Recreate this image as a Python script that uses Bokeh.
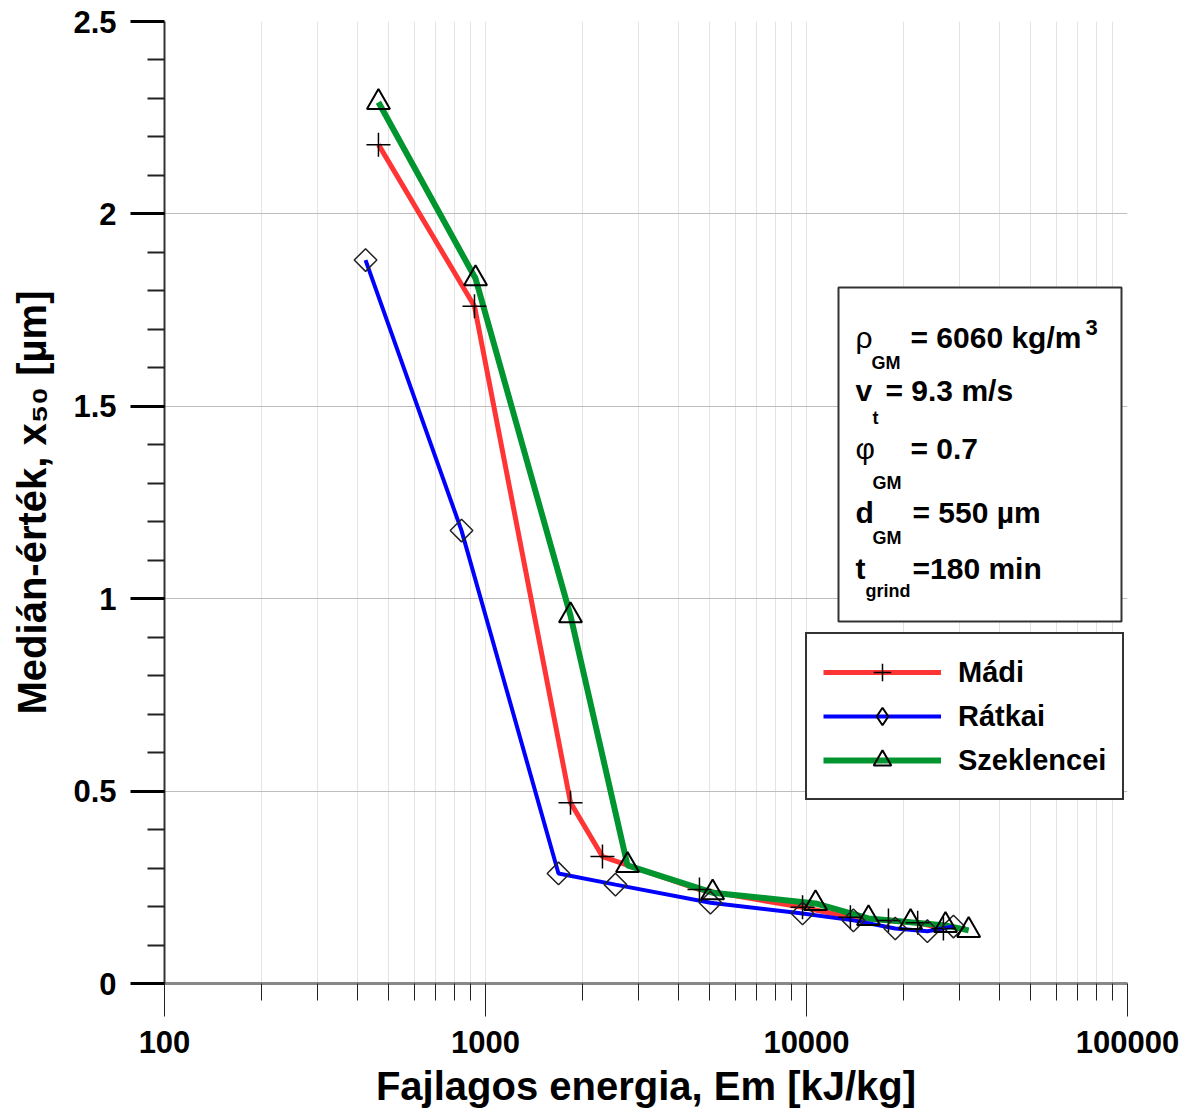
import numpy as np
from bokeh.plotting import figure
from bokeh.models import (Range1d, FixedTicker, CustomJSTickFormatter, Label,
                          BoxAnnotation, Legend, LegendItem)
from bokeh.embed import file_html
from bokeh.resources import INLINE

# ---------------- data ----------------
madi_x = [464, 924, 1840, 2314, 4640, 9720, 13700, 18000, 22200, 26700]
madi_y = [2.18, 1.76, 0.47, 0.33, 0.244, 0.198, 0.172, 0.164, 0.158, 0.143]

ratkai_x = [423, 842, 1688, 2540, 5020, 9720, 14000, 18900, 23800, 28700]
ratkai_y = [1.88, 1.177, 0.286, 0.257, 0.21, 0.182, 0.164, 0.143, 0.136, 0.148]

szek_x = [464, 931, 1840, 2770, 5100, 10670, 15600, 21100, 27100, 32000]
szek_y = [2.29, 1.832, 0.956, 0.307, 0.236, 0.208, 0.169, 0.159, 0.151, 0.138]

x_major = [100, 1000, 10000, 100000]
x_minor = [m * d for d in (100, 1000, 10000) for m in range(2, 10)]
y_major = [0, 0.5, 1, 1.5, 2, 2.5]
y_minor = [round(0.1 * i, 1) for i in range(26) if i % 5 != 0]

FONT = "Liberation Sans"

# ---------------- figure ----------------
W, H = 1184, 1114
FL, FR, FT, FB = 164, 1127, 21, 983   # frame edges in pixels
p = figure(width=W, height=H, x_axis_type="log",
           x_range=Range1d(100, 100000), y_range=Range1d(0, 2.5),
           output_backend="svg", toolbar_location=None,
           min_border_left=FL, min_border_right=W - FR,
           min_border_top=FT, min_border_bottom=H - FB)
p.outline_line_color = None
p.background_fill_color = "white"
p.border_fill_color = "white"

# helpers: pixel -> data, for placing the annotation texts
def dx(px):
    return 10 ** (2 + 3 * (px - FL) / (FR - FL))

def dy(py):
    return 2.5 * (FB - py) / (FB - FT)

# axes
p.xaxis.ticker = FixedTicker(ticks=x_major, minor_ticks=x_minor)
p.xgrid.ticker = FixedTicker(ticks=x_major, minor_ticks=x_minor)
p.xaxis.formatter = CustomJSTickFormatter(code="return Math.round(tick).toString()")
p.yaxis.ticker = FixedTicker(ticks=y_major, minor_ticks=y_minor)
p.ygrid.ticker = FixedTicker(ticks=y_major, minor_ticks=y_minor)
p.yaxis.formatter = CustomJSTickFormatter(code="return tick.toString()")

p.xaxis.axis_label = "Fajlagos energia, Em [kJ/kg]"
p.yaxis.axis_label = "Medián-érték, x₅₀ [µm]"
for ax in (p.xaxis, p.yaxis):
    ax.axis_label_text_font = FONT
    ax.axis_label_text_font_style = "bold"
    ax.axis_label_text_font_size = "40px"
    ax.axis_label_text_color = "black"
    ax.major_label_text_font = FONT
    ax.major_label_text_font_style = "bold"
    ax.major_label_text_font_size = "31px"
    ax.major_label_text_color = "black"
    ax.major_tick_in = 0
    ax.minor_tick_in = 0

p.yaxis.axis_line_color = "#333333"
p.yaxis.axis_line_width = 2
p.yaxis.major_tick_line_color = "black"
p.yaxis.major_tick_line_width = 3
p.yaxis.major_tick_out = 34
p.yaxis.minor_tick_line_color = "#222222"
p.yaxis.minor_tick_line_width = 2
p.yaxis.minor_tick_out = 17
p.yaxis.major_label_standoff = 14
p.yaxis.axis_label_standoff = 16

p.xaxis.axis_line_color = "#888888"
p.xaxis.axis_line_width = 3
p.xaxis.major_tick_line_color = "#222222"
p.xaxis.major_tick_line_width = 1
p.xaxis.major_tick_out = 33
p.xaxis.minor_tick_line_color = "#222222"
p.xaxis.minor_tick_line_width = 1
p.xaxis.minor_tick_out = 17
p.xaxis.major_label_standoff = 14
p.xaxis.axis_label_standoff = 8

p.ygrid.grid_line_color = "#bdbdbd"
p.ygrid.grid_line_width = 1
p.xgrid.grid_line_color = "#e4e4e4"
p.xgrid.grid_line_width = 1
p.xgrid.minor_grid_line_color = "#e4e4e4"
p.xgrid.minor_grid_line_width = 1

# ---------------- series ----------------
RED, BLUE, GREEN = "#ff3535", "#0000ff", "#00952f"
l_m = p.line(madi_x, madi_y, line_color=RED, line_width=5)
l_s = p.line(szek_x, szek_y, line_color=GREEN, line_width=6)
l_r = p.line(ratkai_x, ratkai_y, line_color=BLUE, line_width=4)

s_m = p.scatter(madi_x, madi_y, marker="cross", size=24, line_color="black",
                line_width=1.5)
s_r = p.scatter(ratkai_x, ratkai_y, marker="square", angle=np.pi / 4, size=16,
                line_color="#222222", fill_color=None, line_width=1.5)
s_s = p.scatter(szek_x, szek_y, marker="triangle", size=23, line_color="black",
                fill_color=None, line_width=2)
# legend-only diamond symbol (a single NaN point, never drawn in the plot)
s_r_leg = p.scatter([np.nan], [np.nan], marker="diamond", line_color="black",
                    fill_color=None, line_width=2)

legend = Legend(items=[LegendItem(label="Mádi", renderers=[l_m, s_m]),
                       LegendItem(label="Rátkai", renderers=[l_r, s_r_leg]),
                       LegendItem(label="Szeklencei", renderers=[l_s, s_s])],
                location=(805 - FL, FB - 800))
legend.label_text_font = FONT
legend.label_text_font_style = "bold"
legend.label_text_font_size = "29px"
legend.label_text_color = "black"
legend.glyph_width = 118
legend.glyph_height = 44
legend.label_height = 44
legend.label_standoff = 17
legend.spacing = 0
legend.padding = 16
legend.margin = 0
legend.border_line_color = "#333333"
legend.border_line_width = 2
legend.border_line_alpha = 1
legend.background_fill_color = "white"
legend.background_fill_alpha = 1
p.add_layout(legend)

# ---------------- parameter box ----------------
box = BoxAnnotation(left=dx(838), right=dx(1121), top=dy(287), bottom=dy(621),
                    fill_color="white", fill_alpha=1, line_color="#333333",
                    line_alpha=1, line_width=2)
p.add_layout(box)

def txt(px, py, s, size, style="bold"):
    p.add_layout(Label(x=dx(px), y=dy(py), text=s, text_font=FONT,
                       text_font_size=f"{size}px", text_font_style=style,
                       text_color="black", text_baseline="alphabetic",
                       text_align="left"))

txt(855, 337, "ρ", 30, "normal")
txt(871, 362, "GM", 18)
txt(910, 337, "= 6060 kg/m", 30)
txt(1085, 327, "3", 22)

txt(855, 390, "v", 30)
txt(872, 417, "t", 18)
txt(885, 390, "= 9.3 m/s", 30)

txt(855, 448, "φ", 30, "normal")
txt(872, 482, "GM", 18)
txt(910, 448, "= 0.7", 30)

txt(855, 512, "d", 30)
txt(872, 537, "GM", 18)
txt(912, 512, "= 550 µm", 30)

txt(855, 568, "t", 30)
txt(865, 590, "grind", 18)
txt(912, 568, "=180 min", 30)

open("out.html", "w").write(file_html(p, INLINE))
